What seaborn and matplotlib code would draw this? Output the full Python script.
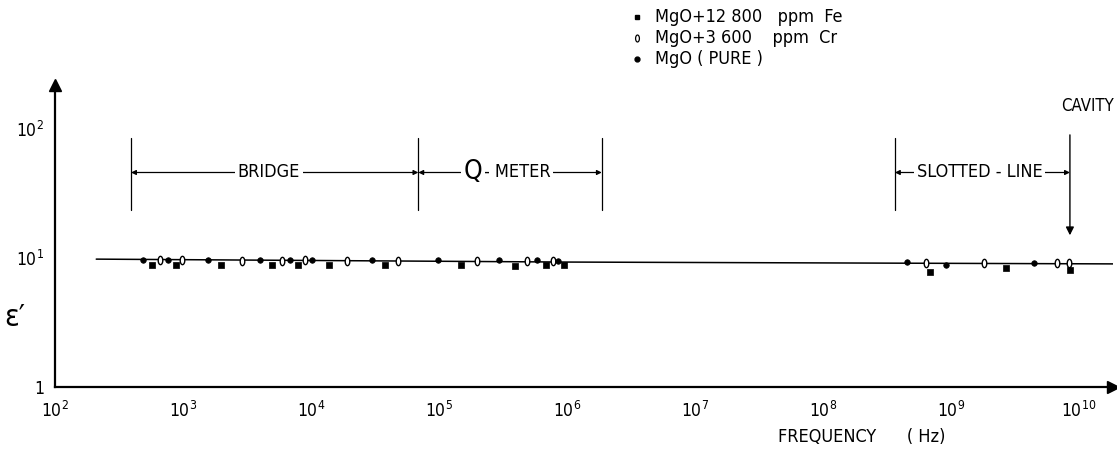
import matplotlib
matplotlib.use("Agg")
import matplotlib.pyplot as plt
import matplotlib.ticker as ticker
from matplotlib.lines import Line2D
import numpy as np
import pandas as pd
import seaborn as sns

# eps' of MgO vs frequency
pure_freq = [490, 760, 1570, 4000, 6900, 10200, 30000, 98000, 294000, 583000, 851000,
             4.5e8, 9.1e8, 4.45e9]
pure_eps = [9.6, 9.6, 9.6, 9.6, 9.6, 9.7, 9.6, 9.6, 9.6, 9.6, 9.5,
            9.3, 8.9, 9.1]
cr_freq = [660, 980, 2890, 5930, 8980, 19100, 47900, 198000, 487000, 778000,
           6.4e8, 1.8e9, 6.7e9, 8.3e9]
cr_eps = [9.6, 9.6, 9.5, 9.5, 9.6, 9.5, 9.5, 9.5, 9.4, 9.4,
          9.1, 9.1, 9.1, 9.1]
fe_freq = [573, 881, 1980, 4960, 7910, 13800, 37900, 148600, 392000, 685000, 948000,
           6.9e8, 2.7e9, 8.5e9]
fe_eps = [8.9, 8.8, 8.9, 8.8, 8.9, 8.9, 8.8, 8.8, 8.6, 8.8, 8.8,
          7.8, 8.3, 8.0]
line_freq = [2.1e2, 1e6, 1.9e10]
line_eps = [9.8, 9.3, 9.0]

x_decades = [1e2, 1e3, 1e4, 1e5, 1e6, 1e7, 1e8, 1e9, 1e10]
x_labels = ["$10^{2}$", "$10^{3}$", "$10^{4}$", "$10^{5}$", "$10^{6}$",
            "$10^{7}$", "$10^{8}$", "$10^{9}$", "$10^{10}$"]
y_decades = [1, 10, 100]
y_labels = ["1", "$10^{1}$", "$10^{2}$"]

# measuring ranges (Hz)
bridge_range = [393, 6.9e4]
qmeter_range = [6.9e4, 1.87e6]
slotted_range = [3.65e8, 8.5e9]
cavity_freq = 8.5e9

legend_labels = ["MgO+12 800   ppm  Fe", "MgO+3 600    ppm  Cr", "MgO ( PURE )"]

sns.set_style("white")
plt.rcParams.update({
    "font.family": ["DejaVu Sans"],
    "font.stretch": "condensed",
    "mathtext.default": "regular",
    "axes.linewidth": 1.6,
    "axes.edgecolor": "black",
    "text.color": "black",
    "xtick.color": "black",
    "ytick.color": "black",
    "xtick.direction": "in",
    "ytick.direction": "in",
})

df_pure = pd.DataFrame({"f": pure_freq, "eps": pure_eps})
df_cr = pd.DataFrame({"f": cr_freq, "eps": cr_eps})
df_fe = pd.DataFrame({"f": fe_freq, "eps": fe_eps})
df_line = pd.DataFrame({"f": line_freq, "eps": line_eps})

fig = plt.figure(figsize=(11.17, 4.5), dpi=100)
ax = fig.add_axes([55 / 1117, 63 / 450, 1058 / 1117, 302 / 450])
ax.set_xscale("log")
ax.set_yscale("log")

# narrow "0" marker for Cr
t = np.linspace(0, 2 * np.pi, 40)
zero_marker = np.column_stack([0.55 * np.cos(t), np.sin(t)])

sns.lineplot(data=df_line, x="f", y="eps", ax=ax, color="black", linewidth=1.1,
             estimator=None, sort=True, zorder=1)
ax.plot(df_cr["f"], df_cr["eps"], linestyle="none", marker=zero_marker,
        markersize=6, markerfacecolor="white", markeredgecolor="black",
        markeredgewidth=1.0, zorder=3)
sns.scatterplot(data=df_pure, x="f", y="eps", ax=ax, color="black", marker="o",
                s=16, edgecolor="black", linewidth=0.5, zorder=4)
sns.scatterplot(data=df_fe, x="f", y="eps", ax=ax, color="black", marker="s",
                s=18, edgecolor="black", linewidth=0.5, zorder=4)

ax.set_xlim(1e2, 10 ** 10.266)
ax.set_ylim(1, 10 ** 2.341)
ax.set_xlabel("")
ax.set_ylabel("")

sns.despine(ax=ax, top=True, right=True)
ax.plot(1, 0, ">", color="black", markersize=9, transform=ax.transAxes, clip_on=False)
ax.plot(0, 1, "^", color="black", markersize=9, transform=ax.transAxes, clip_on=False)

ax.xaxis.set_major_locator(ticker.FixedLocator(x_decades))
ax.xaxis.set_minor_locator(ticker.FixedLocator(
    [d * k for d in x_decades[:-1] for k in range(2, 10)] + [x_decades[-1] * 2]))
ax.yaxis.set_major_locator(ticker.FixedLocator(y_decades))
ax.yaxis.set_minor_locator(ticker.FixedLocator(
    [d * k for d in y_decades[:-1] for k in range(2, 10)]))
ax.xaxis.set_major_formatter(ticker.FixedFormatter(x_labels))
ax.yaxis.set_major_formatter(ticker.FixedFormatter(y_labels))
ax.xaxis.set_minor_formatter(ticker.NullFormatter())
ax.yaxis.set_minor_formatter(ticker.NullFormatter())
ax.tick_params(axis="x", which="major", length=9, width=1.0, labelsize=12.5, pad=10)
ax.tick_params(axis="x", which="minor", length=5, width=0.8)
ax.tick_params(axis="y", which="major", length=8, width=1.0, labelsize=12.5, pad=8)
ax.tick_params(axis="y", which="minor", length=6, width=0.8)

# range bars
bar_lo, bar_hi, bar_y = 23.5, 85, 46
for f in [bridge_range[0], bridge_range[1], qmeter_range[1], slotted_range[0]]:
    ax.plot([f, f], [bar_lo, bar_hi], color="black", linewidth=0.9)
for rng in [bridge_range, qmeter_range, slotted_range]:
    ax.annotate("", xy=(rng[1], bar_y), xytext=(rng[0], bar_y),
                arrowprops=dict(arrowstyle="<|-|>", color="black", lw=0.9,
                                mutation_scale=7, shrinkA=0, shrinkB=0))
box = dict(facecolor="white", edgecolor="none", pad=2)
ax.text(np.sqrt(bridge_range[0] * bridge_range[1]) * 0.9, bar_y, "BRIDGE",
        ha="center", va="center", fontsize=13, bbox=box)
ax.text(4.1e5, bar_y, "- METER", ha="center", va="center", fontsize=13, bbox=box)
ax.text(1.85e5, bar_y, "Q", ha="center", va="center", fontsize=19, bbox=box, zorder=5)
ax.text(np.sqrt(slotted_range[0] * slotted_range[1]) * 0.95, bar_y, "SLOTTED - LINE",
        ha="center", va="center", fontsize=13, bbox=box)
ax.annotate("", xy=(cavity_freq, 15), xytext=(cavity_freq, 90),
            arrowprops=dict(arrowstyle="-|>", color="black", lw=1.0,
                            mutation_scale=12, shrinkA=0, shrinkB=0))
ax.text(1.17e10, 128, "CAVITY", ha="center", va="bottom", fontsize=12)

# axis titles
fig.text(15 / 1117, 1 - 318 / 450, "ε′", fontsize=22, ha="center", va="center")
fig.text(862 / 1117, 1 - 437 / 450, "FREQUENCY      ( Hz)", fontsize=13,
         ha="center", va="center")

# legend block above the plot
markers = [dict(marker="s", markersize=3.5, markerfacecolor="black", markeredgecolor="black"),
           dict(marker=zero_marker, markersize=5, markerfacecolor="white",
                markeredgecolor="black", markeredgewidth=0.9),
           dict(marker="o", markersize=3.5, markerfacecolor="black", markeredgecolor="black")]
for i, (lab, mk) in enumerate(zip(legend_labels, markers)):
    yy = 1 - (17 + 21 * i) / 450
    fig.add_artist(Line2D([637 / 1117], [yy], linestyle="none",
                          transform=fig.transFigure, **mk))
    fig.text(655 / 1117, yy, lab, fontsize=13, ha="left", va="center")

fig.savefig("out.png", dpi=100)
